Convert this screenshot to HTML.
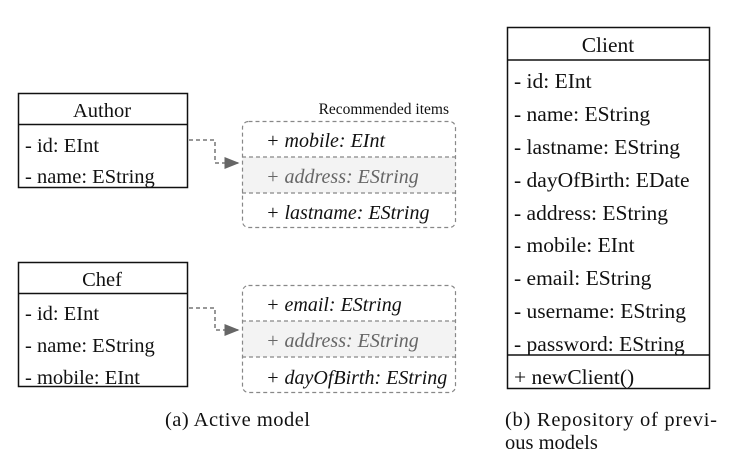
<!DOCTYPE html>
<html><head><meta charset="utf-8"><style>
html,body{margin:0;padding:0;background:#fff;width:736px;height:460px;overflow:hidden}
svg text{font-family:"Liberation Serif",serif;font-size:20.5px;fill:#111}
.it{font-style:italic;font-size:20px}
.gr{fill:#666}
.cl{font-size:21.5px}
</style></head><body>
<svg width="736" height="460" viewBox="0 0 736 460">
<defs><marker id="ah" markerWidth="10" markerHeight="10" refX="9" refY="5" orient="auto"><path d="M0,1 L10,5 L0,9 z" fill="#666"/></marker></defs>

<g>
<rect x="18.5" y="93.5" width="169" height="94" fill="#fff" stroke="#111" stroke-width="1.5"/>
<line x1="18" y1="124.5" x2="187" y2="124.5" stroke="#111" stroke-width="1.5"/>
<text x="102" y="117" text-anchor="middle">Author</text>
<text x="25" y="152">- id: EInt</text>
<text x="25" y="183">- name: EString</text>
</g>

<g>
<rect x="18.5" y="262.5" width="169" height="124" fill="#fff" stroke="#111" stroke-width="1.5"/>
<line x1="18" y1="293.5" x2="187" y2="293.5" stroke="#111" stroke-width="1.5"/>
<text x="102" y="286" text-anchor="middle">Chef</text>
<text x="25" y="320">- id: EInt</text>
<text x="25" y="352">- name: EString</text>
<text x="25" y="384">- mobile: EInt</text>
</g>

<path d="M189,140 H215 V163 H238" fill="none" stroke="#777" stroke-width="1.5" stroke-dasharray="4,3" marker-end="url(#ah)"/>
<path d="M189,308 H215 V330 H238" fill="none" stroke="#777" stroke-width="1.5" stroke-dasharray="4,3" marker-end="url(#ah)"/>

<text x="449" y="114" text-anchor="end" style="font-size:15.5px">Recommended items</text>

<g>
<rect x="242.5" y="157" width="213" height="36" fill="#f3f3f3"/>
<rect x="242.5" y="121.5" width="213" height="106" rx="6" fill="none" stroke="#888" stroke-width="1.2" stroke-dasharray="4,3"/>
<line x1="242" y1="157" x2="456" y2="157" stroke="#888" stroke-width="1.2" stroke-dasharray="4,3"/>
<line x1="242" y1="193" x2="456" y2="193" stroke="#888" stroke-width="1.2" stroke-dasharray="4,3"/>
<text x="266" y="147" class="it">+ mobile: EInt</text>
<text x="266" y="183" class="it gr">+ address: EString</text>
<text x="266" y="219" class="it">+ lastname: EString</text>
</g>

<g>
<rect x="242.5" y="321" width="213" height="36" fill="#f3f3f3"/>
<rect x="242.5" y="285.5" width="213" height="107" rx="6" fill="none" stroke="#888" stroke-width="1.2" stroke-dasharray="4,3"/>
<line x1="242" y1="321" x2="456" y2="321" stroke="#888" stroke-width="1.2" stroke-dasharray="4,3"/>
<line x1="242" y1="357" x2="456" y2="357" stroke="#888" stroke-width="1.2" stroke-dasharray="4,3"/>
<text x="266" y="311" class="it">+ email: EString</text>
<text x="266" y="347" class="it gr">+ address: EString</text>
<text x="266" y="384" class="it">+ dayOfBirth: EString</text>
</g>

<text x="165" y="426" textLength="145">(a)  Active model</text>

<g>
<rect x="507.5" y="27.5" width="202" height="361" fill="#fff" stroke="#111" stroke-width="1.5"/>
<line x1="507" y1="60" x2="710" y2="60" stroke="#111" stroke-width="1.5"/>
<line x1="507" y1="355" x2="710" y2="355" stroke="#111" stroke-width="1.5"/>
<text x="608" y="52" text-anchor="middle" class="cl">Client</text>
<text x="514" y="88" class="cl">- id: EInt</text>
<text x="514" y="121" class="cl">- name: EString</text>
<text x="514" y="154" class="cl">- lastname: EString</text>
<text x="514" y="187" class="cl">- dayOfBirth: EDate</text>
<text x="514" y="220" class="cl">- address: EString</text>
<text x="514" y="252" class="cl">- mobile: EInt</text>
<text x="514" y="285" class="cl">- email: EString</text>
<text x="514" y="318" class="cl">- username: EString</text>
<text x="514" y="351" class="cl">- password: EString</text>
<text x="514" y="384" class="cl">+ newClient()</text>
</g>

<text x="505" y="426" textLength="212">(b)  Repository of previ-</text>
<text x="505" y="449">ous models</text>
</svg>
</body></html>
